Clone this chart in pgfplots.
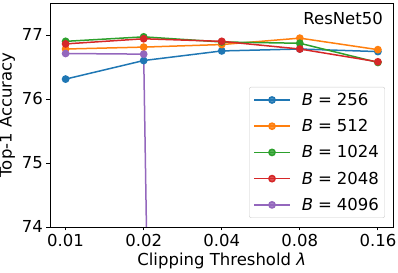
\documentclass[border=0pt]{standalone}
\usepackage{fontspec}
\setmainfont{DejaVu Sans}
\usepackage{pgfplots}
\pgfplotsset{compat=1.18}
\definecolor{c0}{HTML}{1F77B4}
\definecolor{c1}{HTML}{FF7F0E}
\definecolor{c2}{HTML}{2CA02C}
\definecolor{c3}{HTML}{D62728}
\definecolor{c4}{HTML}{9467BD}
\newcommand{\fs}{\fontsize{16.5bp}{19bp}\selectfont}
\newcommand{\eqsp}{\hspace{0.3em}}
\begin{document}
\begin{tikzpicture}
\begin{axis}[
  scale only axis,
  width=343.5bp, height=224bp,
  xmin=-0.2, xmax=4.2, ymin=74, ymax=77.5,
  xtick={0,1,2,3,4},
  xticklabels={0.01,0.02,0.04,0.08,0.16},
  ytick={74,75,76,77},
  /pgf/number format/assume math mode=true,
  ticklabel style={font=\fs},
  label style={font=\fs},
  tick align=outside, tick pos=left,
  major tick length=3.5bp,
  tick style={black, line width=0.8bp},
  axis line style={line width=0.8bp},
  xlabel={Clipping Threshold \textit{λ}},
  ylabel={Top-1 Accuracy},
  every axis plot/.append style={line width=1.5bp, mark=*, mark size=3.1bp},
  legend image code/.code={\draw[mark repeat=2,mark phase=2] plot coordinates {(0bp,0bp) (18bp,0bp) (36bp,0bp)};},
  legend style={at={(1,0)}, anchor=south east, xshift=-8.5bp, yshift=9bp,
    draw=black!20, rounded corners=2bp, fill=white, fill opacity=0.8, text opacity=1,
    font=\fs, row sep=8.5bp, inner sep=4bp,
    /tikz/every odd column/.style={column sep=9bp}},
  legend cell align=left,
]
\addplot[c0, mark options={fill=c0, draw=c0}] coordinates {(0,76.31) (1,76.60) (2,76.75) (3,76.78) (4,76.74)};
\addlegendentry{\textit{B}\eqsp=\eqsp256}
\addplot[c1, mark options={fill=c1, draw=c1}] coordinates {(0,76.78) (1,76.81) (2,76.85) (3,76.95) (4,76.77)};
\addlegendentry{\textit{B}\eqsp=\eqsp512}
\addplot[c2, mark options={fill=c2, draw=c2}] coordinates {(0,76.90) (1,76.97) (2,76.89) (3,76.87) (4,76.57)};
\addlegendentry{\textit{B}\eqsp=\eqsp1024}
\addplot[c3, mark options={fill=c3, draw=c3}] coordinates {(0,76.86) (1,76.94) (2,76.90) (3,76.78) (4,76.58)};
\addlegendentry{\textit{B}\eqsp=\eqsp2048}
\addplot[c4, mark options={fill=c4, draw=c4}] coordinates {(0,76.71) (1,76.70) (2,0.1) (3,0.1) (4,0.1)};
\addlegendentry{\textit{B}\eqsp=\eqsp4096}
\node[anchor=north east, font=\fs, inner sep=0pt] at ([xshift=-10.5bp,yshift=-9bp]rel axis cs:1,1) {ResNet50};
\end{axis}
\pgfresetboundingbox
\path[use as bounding box] ([xshift=-50bp,yshift=-46bp]current axis.south west) rectangle ([xshift=4.5bp,yshift=3bp]current axis.north east);
\end{tikzpicture}
\end{document}
